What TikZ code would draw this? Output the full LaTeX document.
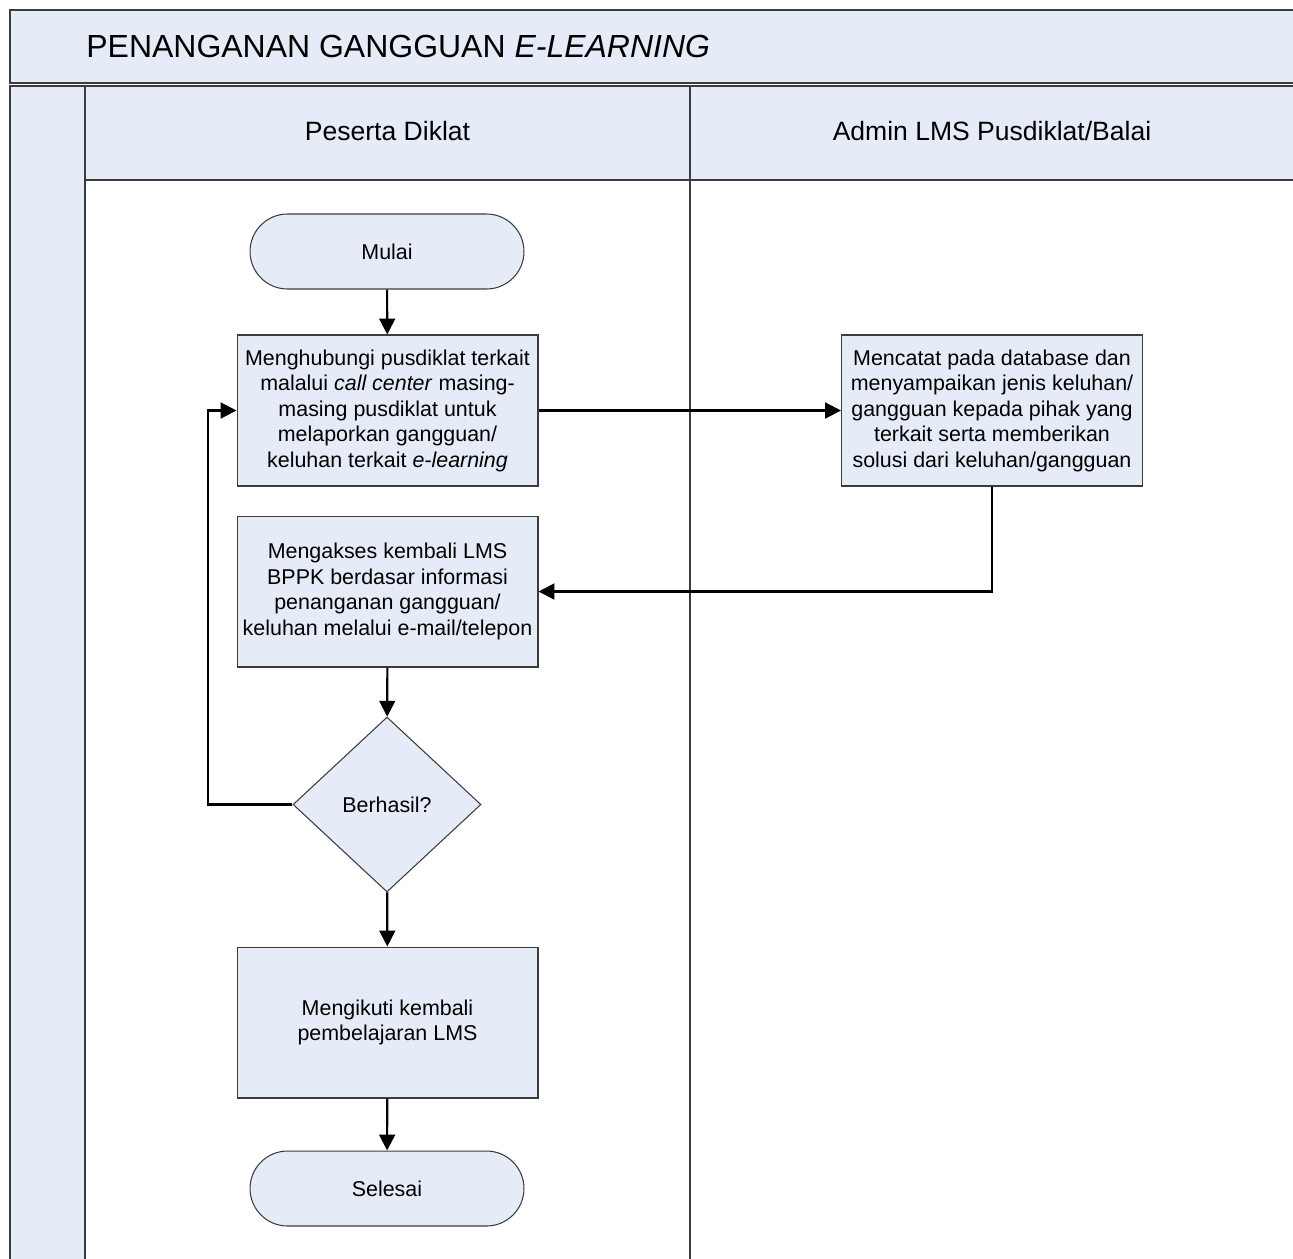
\documentclass[tikz,border=0pt]{standalone}
\usepackage{fontspec}
\setmainfont{Liberation Sans}
\usetikzlibrary{arrows.meta,shapes.geometric}
\definecolor{isian}{RGB}{230,236,247}
\definecolor{garis}{RGB}{60,60,60}
\begin{document}
\begin{tikzpicture}[
        x=0.02cm, y=-0.02cm,
        kolam/.style={draw=garis, line width=0.8pt, fill=isian},
        badan/.style={draw=garis, line width=0.8pt, fill=white},
        proses/.style={
            rectangle,
            draw=garis,
            fill=isian,
            line width=0.6pt,
            minimum width=6.02cm,
            minimum height=3.02cm,
            inner sep=0pt,
            align=center,
            font=\fontsize{12.2}{14.5}\selectfont
        },
        terminal/.style={
            proses,
            rounded corners=0.75cm,
            minimum width=5.48cm,
            minimum height=1.5cm
        },
        keputusan/.style={
            proses,
            diamond,
            minimum width=3.76cm,
            minimum height=3.5cm
        },
        panah/.style={-{Triangle[length=9pt,width=9pt]}, line width=1.2pt}
    ]

    \useasboundingbox (0,0) rectangle (1293,1258);
    \clip (0,0) rectangle (1293,1258);

    % Kolam dan lajur
    \draw[kolam] (10,10) rectangle (1320,83);
    \draw[kolam] (10,86) rectangle (85,1300);
    \draw[kolam] (85,86) rectangle (690,180);
    \draw[kolam] (690,86) rectangle (1320,180);
    \draw[badan] (85,180) rectangle (690,1300);
    \draw[badan] (690,180) rectangle (1320,1300);

    \node[anchor=west, inner sep=0pt, font=\fontsize{18.2}{20}\selectfont] (judul) at (86,46)
        {PENANGANAN GANGGUAN \textit{E-LEARNING}};
    \node[font=\fontsize{15.1}{17}\selectfont] (lajur1) at (387.5,131) {Peserta Diklat};
    \node[font=\fontsize{15.1}{17}\selectfont] (lajur2) at (992,131) {Admin LMS Pusdiklat/Balai};

    % Simpul
    \node[terminal] (n1) at (387,251.5) {Mulai};
    \node[proses] (n2) at (387.5,410.5) {Menghubungi pusdiklat terkait\\
        malalui \textit{call center} masing-\\ masing pusdiklat untuk\\
        melaporkan gangguan/\\ keluhan terkait \textit{e-learning}};
    \node[proses] (n3) at (992,410.5) {Mencatat pada database dan\\
        menyampaikan jenis keluhan/\\ gangguan kepada pihak yang\\
        terkait serta memberikan\\ solusi dari keluhan/gangguan};
    \node[proses] (n4) at (387.5,591.5) {Mengakses kembali LMS\\
        BPPK berdasar informasi\\ penanganan gangguan/\\
        keluhan melalui e-mail/telepon};
    \node[keputusan] (n5) at (387,804.5) {Berhasil?};
    \node[proses] (n6) at (387.5,1022.5) {Mengikuti kembali\\ pembelajaran LMS};
    \node[terminal] (n7) at (387,1188.5) {Selesai};
    \coordinate (k1) at (208,804.5);

    % Panah
    \draw[panah] (n1) -- (n2);
    \draw[panah] (n2) -- (n3);
    \draw[panah] (n3) |- (n4);
    \draw[panah] (n4) -- (n5);
    \draw[panah] (n5) -- (k1) |- (n2);
    \draw[panah] (n5) -- (n6);
    \draw[panah] (n6) -- (n7);

\end{tikzpicture}
\end{document}
